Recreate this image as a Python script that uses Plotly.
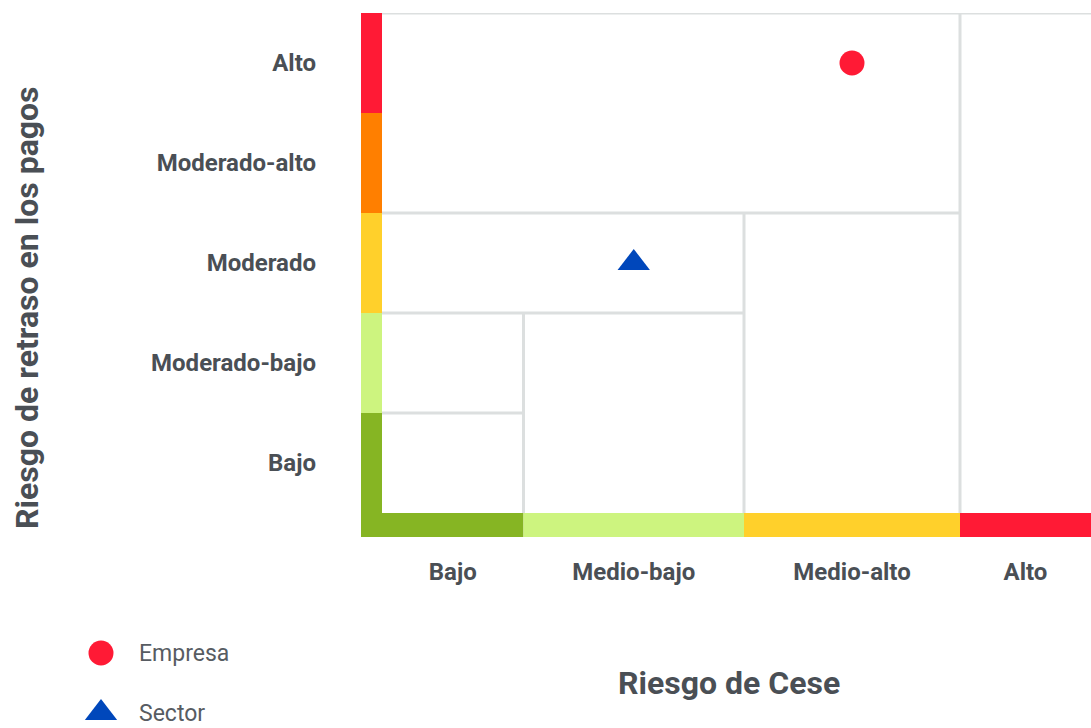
import plotly.graph_objects as go

# ---- data ----
x_categories = ["Bajo", "Medio-bajo", "Medio-alto", "Alto"]
y_categories = ["Bajo", "Moderado-bajo", "Moderado", "Moderado-alto", "Alto"]
series_names = ["Empresa", "Sector"]
series_x = ["Medio-alto", "Medio-bajo"]
series_y = ["Alto", "Moderado"]

# ---- layout / style ----
W, H = 1091, 728                              # body margin removed below
plot_left, plot_top, plot_w, plot_h = 361, 13, 730, 524
x_widths = [141.5, 220.5, 216, 131]          # column widths (axis units = px)
row_height = 100
x_colors = ["#86B523", "#CDF47F", "#FFD02B", "#FF1A35"]
y_colors = ["#86B523", "#CDF47F", "#FFD02B", "#FF7F00", "#FF1A35"]
series_colors = ["#FF1A35", "#0047BB"]
series_symbols = ["circle", "triangle-up"]
series_sizes = [25, 28]
grid_color = "#DCDFDF"
text_color = "#4A4F55"
legend_text_color = "#575C62"
bar_w = 21
bar_h = 24
# legend box (px in figure)
leg_w, leg_h = 330, 188
leg_marker_x, leg_text_x = 101, 137
leg_first_y, leg_step = 113, 60

x_edges = [0]
for w in x_widths:
    x_edges.append(x_edges[-1] + w)
x_centers = [(x_edges[i] + x_edges[i + 1]) / 2 for i in range(len(x_widths))]
y_edges = [i * row_height for i in range(len(y_categories) + 1)]
y_centers = [(y_edges[i] + y_edges[i + 1]) / 2 for i in range(len(y_categories))]
xmax = x_edges[-1]
ymax = y_edges[-1]

fig = go.Figure()

for name, xc, yc, col, sym, sz in zip(series_names, series_x, series_y,
                                      series_colors, series_symbols, series_sizes):
    fig.add_trace(go.Scatter(
        x=[x_centers[x_categories.index(xc)]],
        y=[y_centers[y_categories.index(yc)]],
        mode="markers", name=name, showlegend=False,
        marker=dict(color=col, symbol=sym, size=sz, opacity=1, line=dict(width=0)),
        hoverinfo="name", xaxis="x", yaxis="y",
    ))

# custom legend drawn on its own small axes
leg_y = [leg_first_y + i * leg_step for i in range(len(series_names))]
fig.add_trace(go.Scatter(
    x=[leg_marker_x] * len(series_names), y=leg_y, mode="markers",
    marker=dict(color=series_colors, symbol=series_symbols, size=series_sizes,
                opacity=1, line=dict(width=0)),
    showlegend=False, hoverinfo="skip", xaxis="x2", yaxis="y2",
))

shapes = []
for i, c in enumerate(y_colors):
    y0 = y_edges[i] if i > 0 else -bar_h
    shapes.append(dict(type="rect", xref="x", yref="y", x0=-bar_w, x1=0,
                       y0=y0, y1=y_edges[i + 1], fillcolor=c, line=dict(width=0), layer="above"))
for i, c in enumerate(x_colors):
    shapes.append(dict(type="rect", xref="x", yref="y", x0=x_edges[i], x1=x_edges[i + 1],
                       y0=-bar_h, y1=0, fillcolor=c, line=dict(width=0), layer="above"))

gl = dict(color=grid_color, width=3)
v_tops = [2 * row_height, 3 * row_height, 5 * row_height]
for k, top in zip(range(1, 4), v_tops):
    shapes.append(dict(type="line", xref="x", yref="y", x0=x_edges[k], x1=x_edges[k],
                       y0=0, y1=top, line=gl, layer="below"))
h_ends = [x_edges[1], x_edges[2], x_edges[3], None, xmax]
for j, end in zip(range(1, 6), h_ends):
    if end is None:
        continue
    shapes.append(dict(type="line", xref="x", yref="y", x0=-1, x1=end,
                       y0=y_edges[j], y1=y_edges[j], line=gl, layer="below"))

tick_font = dict(family="Roboto", size=24, color=text_color, weight="bold")
title_font = dict(family="Roboto", size=32, color=text_color, weight="bold")

annotations = [
    dict(text="Riesgo de Cese", xref="paper", yref="paper", x=729 / W, y=(H - 683) / H,
         xanchor="center", yanchor="middle", showarrow=False, font=title_font),
    dict(text="Riesgo de retraso en los pagos", xref="paper", yref="paper",
         x=27 / W, y=(H - 308) / H, xanchor="center", yanchor="middle", textangle=-90,
         showarrow=False, font=title_font),
]
for name, yy in zip(series_names, leg_y):
    annotations.append(dict(text=name, xref="x2", yref="y2", x=leg_text_x, y=yy,
                            xanchor="left", yanchor="middle", showarrow=False,
                            font=dict(family="Roboto", size=23, color=legend_text_color)))

fig.update_layout(
    width=W, height=H,
    margin=dict(l=0, r=0, t=0, b=0),
    paper_bgcolor="white", plot_bgcolor="white",
    shapes=shapes, annotations=annotations,
    showlegend=False,
    xaxis=dict(domain=[plot_left / W, (plot_left + plot_w) / W], anchor="y",
               range=[-bar_w, xmax], showgrid=False, zeroline=False, showline=False,
               tickvals=x_centers, ticktext=x_categories, ticks="",
               tickfont=tick_font, ticklabelstandoff=18, fixedrange=True),
    yaxis=dict(domain=[(H - plot_top - plot_h) / H, (H - plot_top) / H], anchor="x",
               range=[-bar_h, ymax], showgrid=False, zeroline=False, showline=False,
               tickvals=y_centers, ticktext=y_categories, ticks="",
               tickfont=tick_font, ticklabelstandoff=44, fixedrange=True),
    xaxis2=dict(domain=[0, leg_w / W], anchor="y2", range=[0, leg_w], visible=False,
                fixedrange=True),
    yaxis2=dict(domain=[0, leg_h / H], anchor="x2", range=[leg_h, 0], visible=False,
                fixedrange=True),
)

fig.write_html(
    "out.html",
    config={"displayModeBar": False},
    post_script="document.body.style.margin='0';"
                "document.documentElement.style.overflow='hidden';"
                "document.body.style.overflow='hidden';",
)
